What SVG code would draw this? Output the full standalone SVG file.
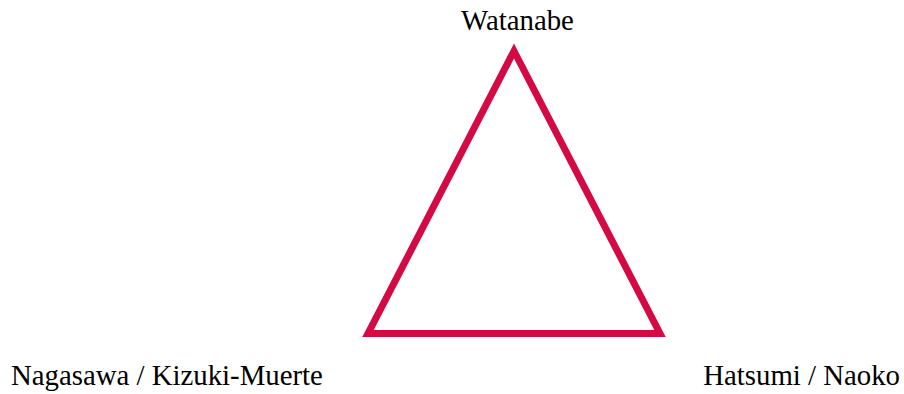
<svg xmlns="http://www.w3.org/2000/svg" width="904" height="394" viewBox="0 0 904 394">
<style>
.lbl{font-family:"Liberation Serif","Times New Roman",serif;font-size:28.8px;fill:#000}
.tri{fill:none;stroke:#d30a44;stroke-width:7;stroke-linejoin:miter;stroke-miterlimit:10}
</style>
<g id="connectors">
<polygon class="tri" points="514,51 368,333.5 660,333.5"/>
</g>
<g id="node-watanabe"><text class="lbl" x="517.5" y="30" text-anchor="middle">Watanabe</text></g>
<g id="node-nagasawa"><text class="lbl" x="11" y="385">Nagasawa / Kizuki-Muerte</text></g>
<g id="node-hatsumi"><text class="lbl" x="900" y="385" text-anchor="end">Hatsumi / Naoko</text></g>
</svg>
